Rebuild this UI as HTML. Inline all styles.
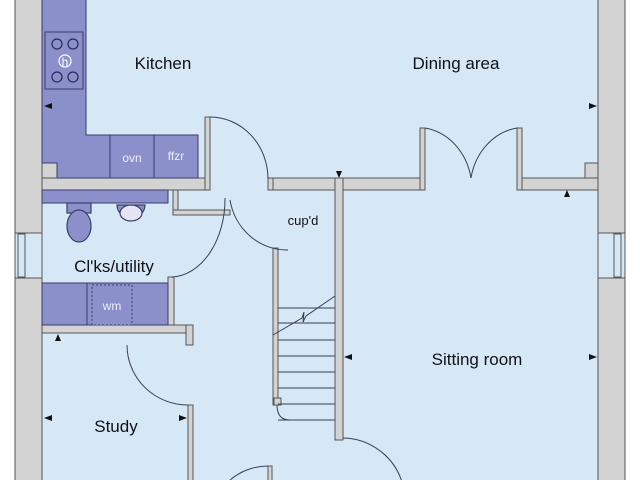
<!DOCTYPE html>
<html><head><meta charset="utf-8"><style>
html,body{margin:0;padding:0;background:#fff;}
svg{display:block}
text{font-family:"Liberation Sans",sans-serif;fill:#111118}
</style></head><body>
<svg width="640" height="480" viewBox="0 0 640 480" xmlns="http://www.w3.org/2000/svg">
<rect x="0" y="0" width="640" height="480" fill="#fff"/>
<rect x="15" y="0" width="610" height="480" fill="#d6e7f6"/>
<g fill="#d3d3d3" stroke="#555" stroke-width="1">
<rect x="15" y="-2" width="27" height="484"/>
<rect x="598" y="-2" width="27" height="484"/>
<path d="M42 163 H57 V178 H42 Z"/>
<path d="M585 163 H598 V190 H585 Z"/>
<rect x="42" y="178" width="163" height="12"/>
<rect x="205" y="117" width="5" height="73"/>
<rect x="268" y="178" width="67" height="12"/>
<rect x="335" y="178" width="8" height="262"/>
<rect x="343" y="178" width="77" height="12"/>
<rect x="420" y="128" width="5" height="62"/>
<rect x="517" y="128" width="5" height="62"/>
<rect x="522" y="178" width="76" height="12"/>
<rect x="168" y="277" width="6" height="50"/>
<rect x="42" y="325" width="151" height="8"/>
<rect x="186" y="325" width="7" height="20"/>
<rect x="188" y="405" width="5" height="80"/>
<rect x="173" y="190" width="5" height="25"/>
<rect x="173" y="210" width="57" height="5"/>
<rect x="268" y="178" width="5" height="12"/>
<rect x="273" y="248" width="5" height="157"/>
<rect x="274" y="398" width="7" height="7"/>
<rect x="268" y="466" width="4" height="20"/>
</g>
<g stroke="#555" stroke-width="1" fill="#d6e7f6">
<rect x="15" y="233" width="27" height="45"/>
<rect x="18" y="234" width="7" height="43"/>
<rect x="598" y="233" width="27" height="45"/>
<rect x="614" y="234" width="7" height="43"/>
</g>
<g fill="#8b8fca" stroke="#3a3e6a" stroke-width="1">
<path d="M42 -2 H86 V135 H198 V178 H57 V163 H42 Z"/>
<rect x="45" y="32" width="38" height="57"/>
<rect x="110" y="135" width="44" height="43"/>
<rect x="154" y="135" width="44" height="43"/>
<rect x="42" y="190" width="126" height="13"/>
<rect x="42" y="283" width="126" height="42"/>
<line x1="87" y1="283" x2="87" y2="325"/>
<rect x="92" y="285" width="40" height="40" stroke-dasharray="2,2"/>
</g>
<g fill="none" stroke="#2a2e55" stroke-width="1.2">
<circle cx="57" cy="44" r="5"/><circle cx="73" cy="44" r="5"/>
<circle cx="57" cy="77" r="5"/><circle cx="73" cy="77" r="5"/>
<circle cx="65" cy="61" r="6" stroke="#fff"/>
</g>
<text x="65" y="66" font-size="12" text-anchor="middle" style="fill:#fff">h</text>
<text x="132" y="162" font-size="12" text-anchor="middle" style="fill:#eef">ovn</text>
<text x="176" y="160" font-size="12" text-anchor="middle" style="fill:#eef">ffzr</text>
<text x="112" y="310" font-size="12" text-anchor="middle" style="fill:#eef">wm</text>
<g stroke="#3a3e6a" stroke-width="1.2">
<rect x="67" y="203" width="24" height="10" fill="#8b8fca"/>
<ellipse cx="79" cy="226" rx="12" ry="16" fill="#8b8fca"/>
<path d="M117 205 A14 13 0 0 0 145 205 Z" fill="#8b8fca"/>
<ellipse cx="131" cy="213" rx="11" ry="8" fill="#e4e4f4"/>
</g>
<g stroke="#3a3e55" stroke-width="1" fill="none">
<path d="M278 308 H335 M278 323 H335 M278 340 H335 M278 356 H335 M278 372 H335 M278 388 H335 M278 404 H335 M278 420 H335"/>
<path d="M273 335 L302 318 L304 312 L303 322 L306 316 L335 296"/>
<path d="M277 405 Q277 420 290 420"/>
<path d="M210 117 A58 62 0 0 1 268 179"/>
<path d="M425 128 A55 62 0 0 1 471 178 M517 128 A55 62 0 0 0 471 178"/>
<path d="M230 200 A58 60 0 0 0 288 250"/>
<path d="M225 198 A55 78 0 0 1 172 277"/>
<path d="M127 345 A61 60 0 0 0 188 405"/>
<path d="M343 438 A63 63 0 0 1 402 482"/>
<path d="M268 466 A55 50 0 0 0 228 482"/>
</g>
<g fill="#111">
<path d="M44 106 l8 -3 v6 z"/>
<path d="M597 106 l-8 -3 v6 z"/>
<path d="M339 178 l-3 -7 h6 z"/>
<path d="M567 190 l-3 7 h6 z"/>
<path d="M58 334 l-3 7 h6 z"/>
<path d="M344 357 l8 -3 v6 z"/>
<path d="M597 357 l-8 -3 v6 z"/>
<path d="M44 418 l8 -3 v6 z"/>
<path d="M187 418 l-8 -3 v6 z"/>
</g>
<text x="163" y="69" font-size="17" text-anchor="middle">Kitchen</text>
<text x="456" y="69" font-size="17" text-anchor="middle">Dining area</text>
<text x="303" y="225" font-size="13" text-anchor="middle">cup'd</text>
<text x="114" y="272" font-size="17" text-anchor="middle">Cl'ks/utility</text>
<text x="477" y="365" font-size="17" text-anchor="middle">Sitting room</text>
<text x="116" y="432" font-size="17" text-anchor="middle">Study</text>
</svg>
</body></html>
